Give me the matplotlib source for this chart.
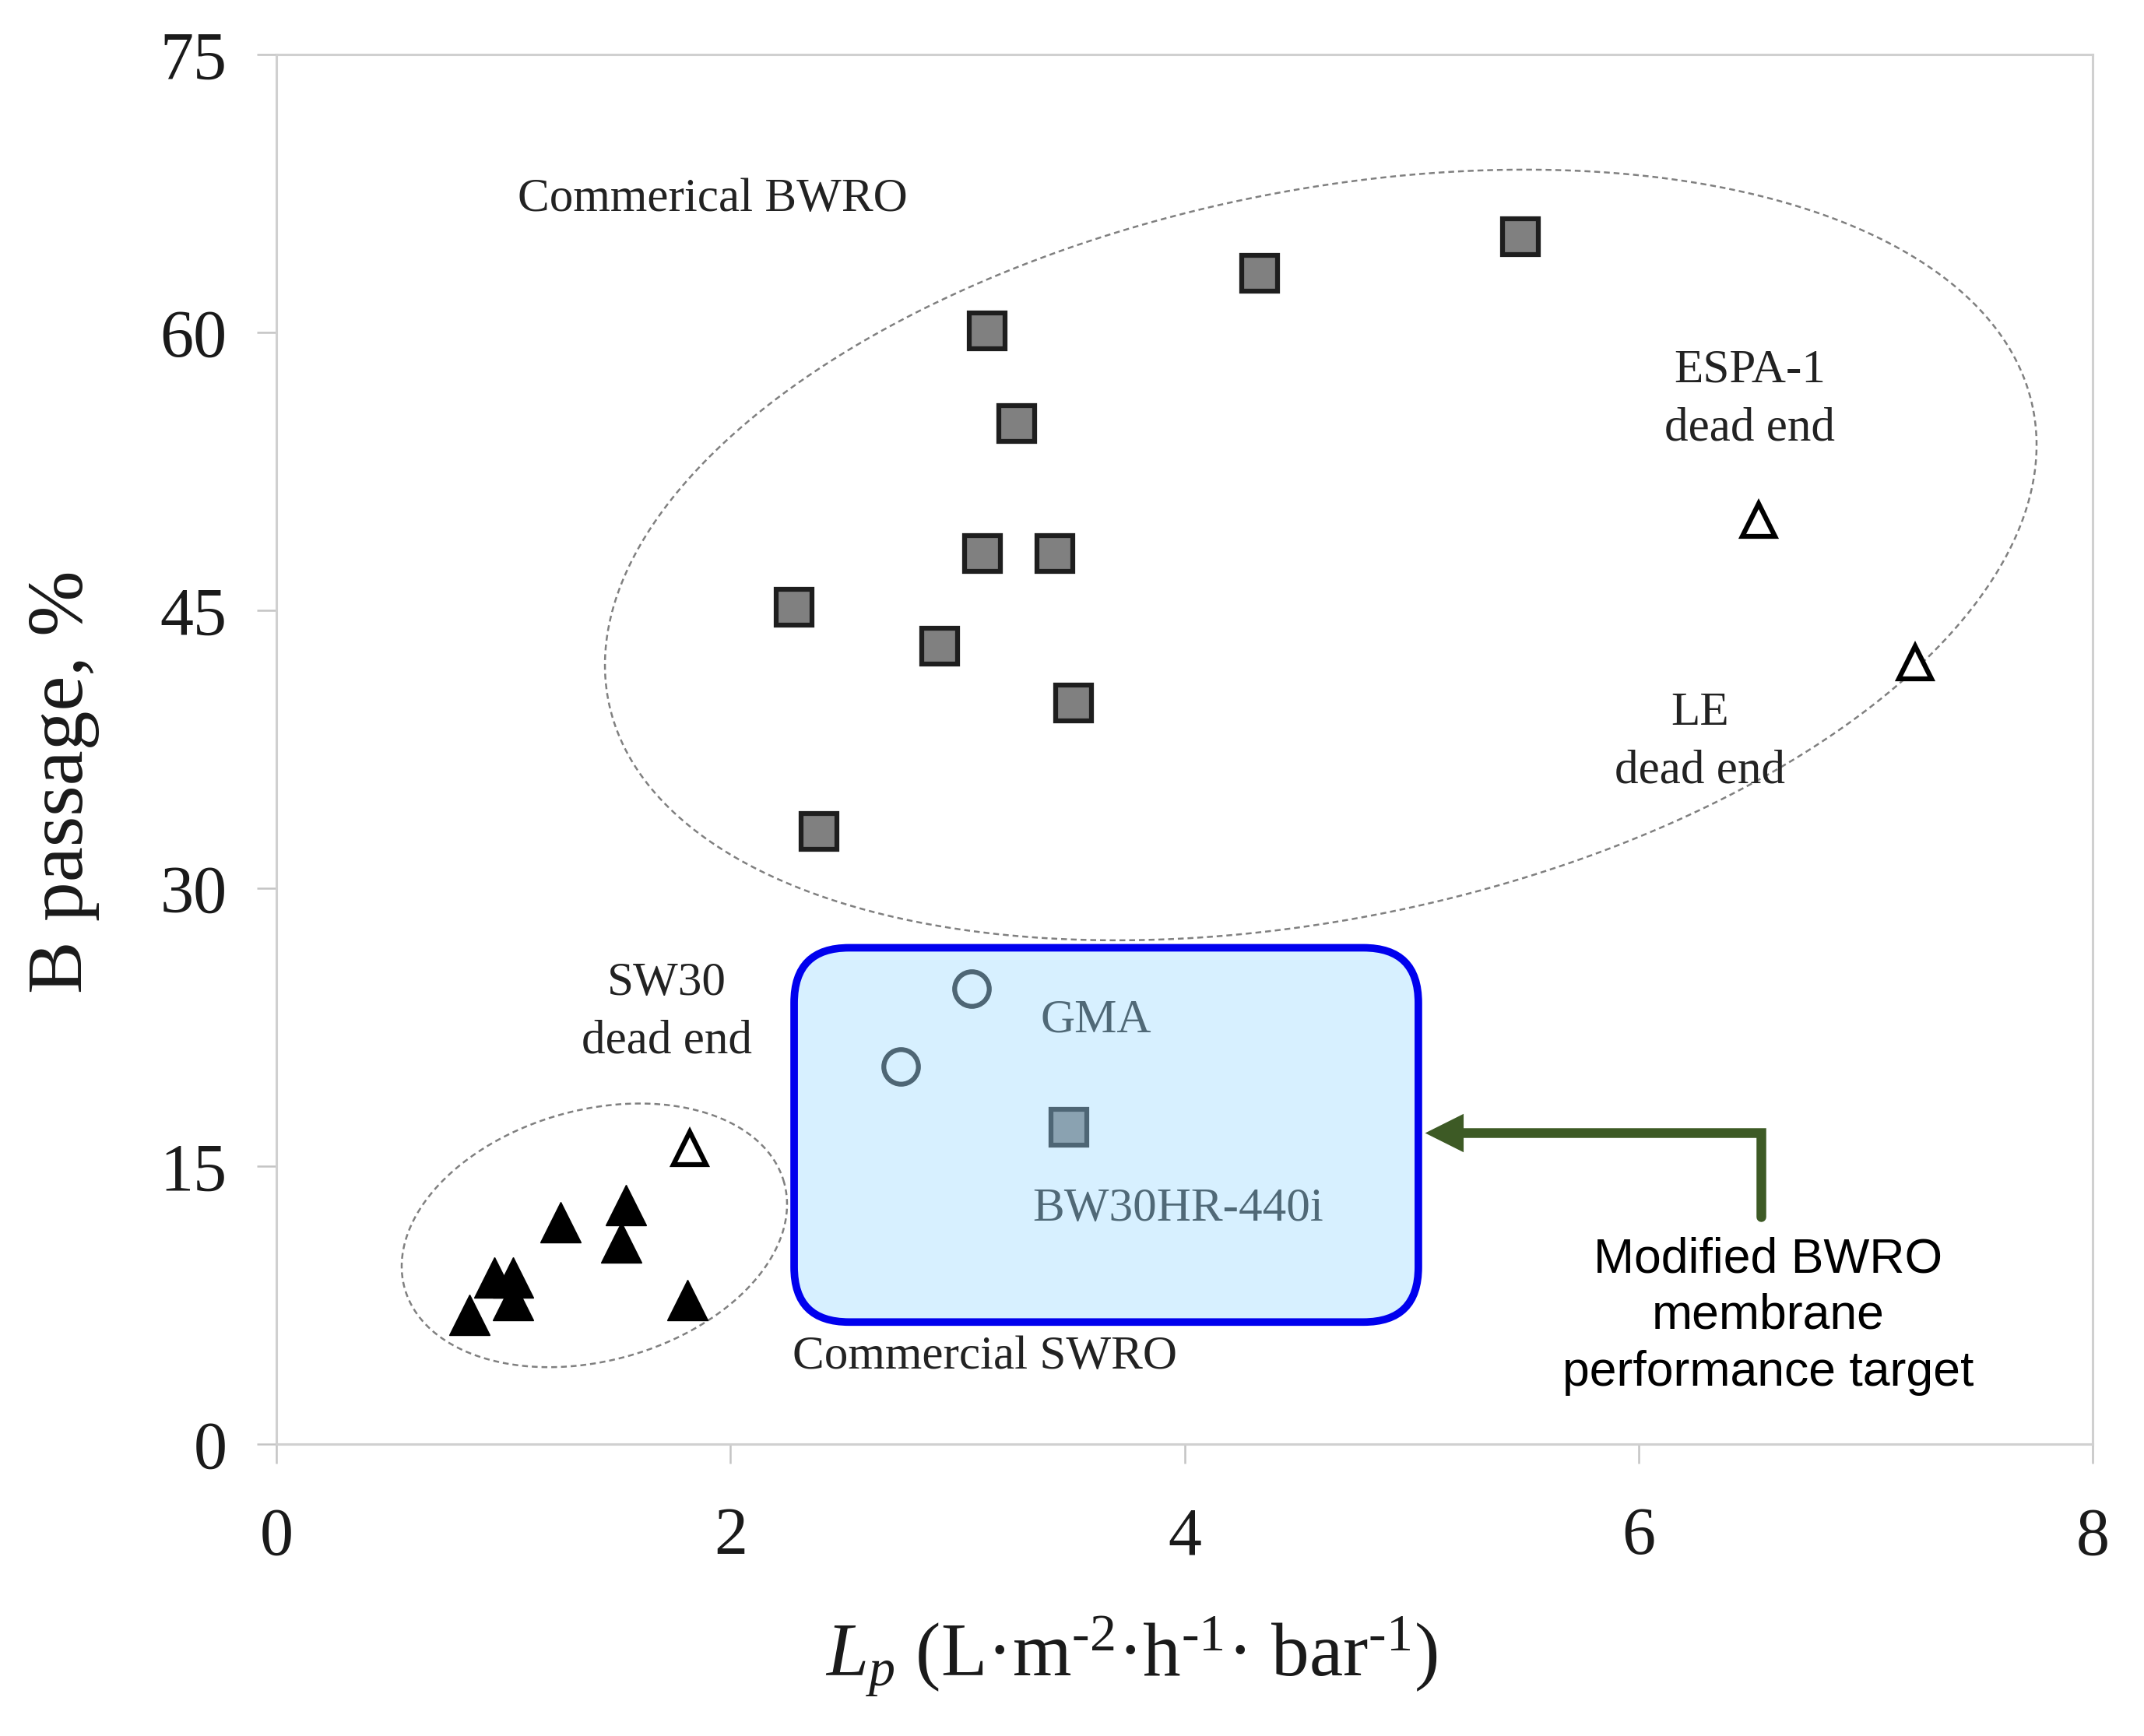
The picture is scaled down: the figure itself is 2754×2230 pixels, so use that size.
import numpy as np
import matplotlib.pyplot as plt
from matplotlib.patches import FancyBboxPatch

plt.rcParams["font.family"] = ["Liberation Serif"]
plt.rcParams["mathtext.fontset"] = "custom"
plt.rcParams["mathtext.rm"] = "Liberation Serif"
plt.rcParams["mathtext.it"] = "Liberation Serif:italic"

# commercial BWRO (grey squares)
bwro_lp = [5.48, 4.33, 3.13, 3.26, 3.11, 3.43, 2.28, 2.92, 3.51, 2.39]
bwro_b = [65.2, 63.2, 60.1, 55.1, 48.1, 48.1, 45.2, 43.1, 40.0, 33.1]
# BW30HR-440i
bw30_lp = [3.49]
bw30_b = [17.1]
# GMA (open circles)
gma_lp = [3.06, 2.75]
gma_b = [24.6, 20.4]
# dead end tests (open triangles): ESPA-1, LE, SW30
dead_lp = [6.53, 7.22, 1.82]
dead_b = [49.9, 42.2, 16.0]
# commercial SWRO (filled triangles)
swro_lp = [0.85, 0.96, 1.04, 1.04, 1.25, 1.54, 1.52, 1.81]
swro_b = [7.0, 9.0, 9.0, 7.8, 12.0, 12.9, 10.9, 7.8]

W, H = 2754, 2230
pos = [0.129, 0.168, 0.847, 0.8005]
fig = plt.figure(figsize=(W / 100, H / 100), dpi=100)
ax = fig.add_axes(pos)
ax.set_xlim(0, 8)
ax.set_ylim(0, 75)

# pixels per data unit, used to draw tilted ellipses / rounded box
sx = W * pos[2] / 8
sy = H * pos[3] / 75


def ellipse(cx, cy, a, b, ang):
    t = np.linspace(0, 2 * np.pi, 400)
    th = np.radians(ang)
    px = a * np.cos(t) * np.cos(th) - b * np.sin(t) * np.sin(th)
    py = a * np.cos(t) * np.sin(th) + b * np.sin(t) * np.cos(th)
    return cx + px / sx, cy + py / sy


ex, ey = ellipse(4.6, 48.0, 934, 467, 11.7)
ax.plot(ex, ey, color="#808080", lw=1.8, dashes=(3, 2), zorder=2)
ex, ey = ellipse(1.40, 11.28, 253, 161, 15.6)
ax.plot(ex, ey, color="#808080", lw=1.8, dashes=(3, 2), zorder=2)

ax.plot(bwro_lp, bwro_b, "s", ms=33, mfc="#808080", mec="#1e1e1e", mew=4.5, zorder=3)
ax.plot(bw30_lp, bw30_b, "s", ms=33, mfc="#808080", mec="#1e1e1e", mew=4.5, zorder=3)
ax.plot(gma_lp, gma_b, "o", ms=32, mfc="white", mec="#1e1e1e", mew=4.5, zorder=3)
ax.plot(dead_lp, dead_b, "^", ms=30, mfc="white", mec="black", mew=4.5, zorder=3)
ax.plot(swro_lp, swro_b, "^", ms=37, mfc="black", mec="black", mew=1, zorder=3)

tkw = dict(fontsize=44, color="#222222", ha="center", va="center", linespacing=1.45)
ax.text(1.92, 67.2, "Commerical BWRO", **tkw)
ax.text(6.49, 56.4, "ESPA-1\ndead end", **tkw)
ax.text(6.27, 37.9, "LE\ndead end", **tkw)
ax.text(1.72, 23.3, "SW30\ndead end", **tkw)
ax.text(3.61, 22.9, "GMA", **tkw)
ax.text(3.97, 12.7, "BW30HR-440i", **tkw)
ax.text(3.12, 4.7, "Commercial SWRO", **tkw)

# translucent target box drawn over the data
x0, x1, y0, y1 = 2.28, 5.03, 6.6, 26.8
r = 40 * 1.765 / sx
asp = sx / sy
ax.add_patch(FancyBboxPatch((x0, y0), x1 - x0, y1 - y0,
                            boxstyle=f"round,pad=0,rounding_size={r}",
                            mutation_aspect=asp, facecolor="#9adaff",
                            alpha=0.39, edgecolor="none", zorder=5))
ax.add_patch(FancyBboxPatch((x0, y0), x1 - x0, y1 - y0,
                            boxstyle=f"round,pad=0,rounding_size={r}",
                            mutation_aspect=asp, facecolor="none",
                            edgecolor="#0000ee", lw=7, zorder=6))

ax.annotate("", xy=(5.06, 16.8), xytext=(6.54, 12.3),
            arrowprops=dict(arrowstyle="-|>,head_length=0.7,head_width=0.35",
                            connectionstyle="angle,angleA=90,angleB=0,rad=0",
                            color="#3d5a25", lw=9, shrinkA=0, shrinkB=0,
                            mutation_scale=30, joinstyle="miter"),
            zorder=6)
ax.text(6.57, 6.93, "Modified BWRO\nmembrane\nperformance target",
        fontsize=45, family="Liberation Sans", ha="center", va="center",
        linespacing=1.3, color="black")

ax.set_xticks([0, 2, 4, 6, 8])
ax.set_yticks([0, 15, 30, 45, 60, 75])
ax.tick_params(direction="out", length=18, width=1.8, color="#c4c4c4",
               labelsize=62, labelcolor="#1a1a1a")
ax.tick_params(axis="x", pad=40)
ax.tick_params(axis="y", pad=28)
for s in ax.spines.values():
    s.set_color("#d0d0d0")
    s.set_linewidth(2.2)

ax.set_ylabel("B passage, %", fontsize=73, color="#1a1a1a")
ax.yaxis.set_label_coords(-0.0976, 0.477)
hy = "\u2010"
ax.set_xlabel(rf"$L_p$ (L·m$^{{{hy}2}}$·h$^{{{hy}1}}$· bar$^{{{hy}1}}$)",
              fontsize=70, color="#1a1a1a")
ax.xaxis.set_label_coords(0.471, -0.122)

fig.savefig("out.png", dpi=100)
